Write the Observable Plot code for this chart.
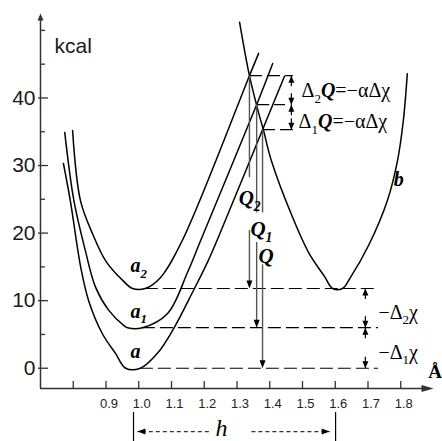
<!DOCTYPE html>
<html><head><meta charset="utf-8">
<script src="https://cdn.jsdelivr.net/npm/d3@7"></script>
<script src="https://cdn.jsdelivr.net/npm/@observablehq/plot@0.6"></script>
<style>
html,body{margin:0;padding:0;background:#fff;}
#chart{width:442px;height:441px;overflow:hidden;}
svg{display:block;}
</style></head><body><div id="chart"></div>
<script>
// ---------- data (Å, kcal) ----------
const curveA  = [[0.770,30.3],[0.791,24.8],[0.823,14.9],[0.847,10.0],[0.889,5.1],[0.929,2.2],[0.960,0],[1.005,0],[1.057,2.2],[1.107,5.9],[1.167,11.5],[1.210,15.7],[1.245,19.6],[1.378,35.3],[1.445,43.2]];
const curveA1 = [[0.774,34.9],[0.802,24.8],[0.837,17.4],[0.868,12.0],[0.908,8.6],[0.955,6.3],[0.966,6.0],[1.011,6.0],[1.088,8.1],[1.149,14.2],[1.189,18.9],[1.360,39.0],[1.409,45.1]];
const curveA2 = [[0.798,35.2],[0.822,24.8],[0.859,19.9],[0.899,15.9],[0.951,13.0],[0.981,11.8],[1.020,11.8],[1.066,13.4],[1.133,18.9],[1.338,43.3],[1.366,46.6]];
const curveB  = [[1.308,51.2],[1.338,43.3],[1.366,37.8],[1.381,35.2],[1.405,30.7],[1.470,22.3],[1.520,17.0],[1.567,13.6],[1.592,11.8],[1.622,11.8],[1.646,13.4],[1.702,18.2],[1.759,24.8],[1.790,30.7],[1.808,36.7],[1.820,43.6]];

const levels     = [11.8, 6.0, 0];          // minima of a2 (= b), a1, a
const levelStart = [1.020, 1.011, 1.005];
const levelEnd   = 1.732;
const crossings  = [[1.338,43.3],[1.360,39.0],[1.378,35.3]]; // a2×b, a1×b, a×b
const crossEnd   = [1.472, 1.448, 1.472];
const qGaps      = [[28.2,20.4],[23.0,18.6],[23.0,15.3]];
const dimUpperX  = 1.466, dimLowerX = 1.692;

const xTicks  = [0.8,0.9,1.0,1.1,1.2,1.3,1.4,1.5,1.6,1.7,1.8];
const xLabels = ["0.9","1.0","1.1","1.2","1.3","1.4","1.5","1.6","1.7","1.8"];
const yMajor  = [0,10,20,30,40];
const yMinor  = [5,15,25,35,45,50];

const curveLabels = [
  {text:"a",   x:0.975, y:1.58},
  {text:"a_1", x:0.975, y:7.5},
  {text:"a_2", x:0.975, y:14.2},
  {text:"b",   x:1.779, y:26.9}
];
const qLabels = [
  {text:"Q_2", x:1.305, y:24.1},
  {text:"Q_1", x:1.341, y:19.6},
  {text:"Q",   x:1.366, y:15.6}
];
const eqLabels = [
  {text:"Δ_2*Q*=−αΔχ", x:1.497, y:40.1},
  {text:"Δ_1*Q*=−αΔχ", x:1.488, y:35.5},
  {text:"−Δ_2χ", x:1.732, y:7.35},
  {text:"−Δ_1χ", x:1.732, y:1.44}
];
const hSpan = [0.984, 1.601];
const hArrow = {y:-9.37, left:[1.214,0.996], right:[1.344,1.583], labelX:1.253, labelY:-9.96, barTop:-6.56, barBottom:-11.2};

// ---------- layout ----------
const W = 442, H = 441, mL = 40, mR = 9, mT = 13, mB = 53;
const xDom = [0.7, 1.9], yDom = [-3, 52.5];
const pxX = (W - mL - mR) / (xDom[1] - xDom[0]);
const pxY = (H - mT - mB) / (yDom[1] - yDom[0]);
const ux = p => p / pxX, uy = p => p / pxY;
const SERIF = "'Liberation Serif','Times New Roman',serif";
const SANS = "'Liberation Sans',Arial,sans-serif";

const head = (dir, L, Wd) => ({draw(ctx) {
  const h = Wd / 2;
  if (dir === "up")        { ctx.moveTo(0,0); ctx.lineTo(-h, L); ctx.lineTo(h, L); }
  else if (dir === "down") { ctx.moveTo(0,0); ctx.lineTo(-h,-L); ctx.lineTo(h,-L); }
  else if (dir === "left") { ctx.moveTo(0,0); ctx.lineTo(L,-h); ctx.lineTo(L, h); }
  else                     { ctx.moveTo(0,0); ctx.lineTo(-L,-h); ctx.lineTo(-L,h); }
  ctx.closePath();
}});

const P = d => ({x: d[0], y: d[1]});
const curveStyle = {x:"x", y:"y", curve:"catmull-rom", stroke:"#000", strokeWidth:1.5};

const levelLines = levels.map((y,i) => ({y, x1: levelStart[i], x2: levelEnd}));
const topLines = crossings.map((c,i) => ({y: c[1], x1: c[0], x2: crossEnd[i]}));

const qSegs = [], qHeads = [];
crossings.forEach((c,i) => {
  qSegs.push({x:c[0], y1:c[1], y2:qGaps[i][0]});
  qSegs.push({x:c[0], y1:qGaps[i][1], y2:levels[i] + uy(4)});
  qHeads.push({x:c[0], y:levels[i]});
});

function dims(x, ys) {
  const up = [], down = [], stems = [];
  for (let i = 0; i < ys.length - 1; i++) {
    const hi = ys[i], lo = ys[i+1];
    up.push({x, y: hi}); stems.push({x, y1: hi, y2: hi - uy(11)});
    down.push({x, y: lo}); stems.push({x, y1: lo, y2: lo + uy(11)});
  }
  return {up, down, stems};
}
const dU = dims(dimUpperX, crossings.map(c => c[1]));
const dL = dims(dimLowerX, levels);
const dimUp = dU.up.concat(dL.up), dimDown = dU.down.concat(dL.down), dimStems = dU.stems.concat(dL.stems);

const axisColor = "#333";
const plot = Plot.plot({
  width: W, height: H, marginLeft: mL, marginRight: mR, marginTop: mT, marginBottom: mB,
  x: {domain: xDom, axis: null},
  y: {domain: yDom, axis: null},
  style: {background: "#fff", overflow: "visible"},
  marks: [
    Plot.ruleX([xDom[0]], {y1: yDom[0], y2: yDom[1] - uy(3), stroke: axisColor, strokeWidth: 1.5}),
    Plot.ruleY([yDom[0]], {x1: xDom[0], x2: xDom[1] - ux(6), stroke: axisColor, strokeWidth: 1.5}),
    Plot.dot([[xDom[0], yDom[1]]], {x: d=>d[0], y: d=>d[1], symbol: head("up", 7, 6), fill: axisColor, stroke: "none"}),
    Plot.dot([[xDom[1], yDom[0]]], {x: d=>d[0], y: d=>d[1], symbol: head("right", 12, 7), fill: axisColor, stroke: "none"}),
    Plot.ruleY(yMajor, {y: d=>d, x1: xDom[0] - ux(2), x2: xDom[0] + ux(8), stroke: axisColor, strokeWidth: 1.3}),
    Plot.ruleY(yMinor, {y: d=>d, x1: xDom[0], x2: xDom[0] + ux(5), stroke: axisColor, strokeWidth: 1.3}),
    Plot.ruleX(xTicks, {x: d=>d, y1: yDom[0], y2: yDom[0] + uy(7), stroke: axisColor, strokeWidth: 1.3}),
    Plot.text(yMajor, {x: xDom[0], y: d=>d, text: d=>String(d), textAnchor: "end", dx: -5, fontSize: 21, fontFamily: SANS, fill: "#1a1a1a"}),
    Plot.text(xLabels, {x: d=>+d, y: yDom[0], text: d=>d, textAnchor: "middle", lineAnchor: "bottom", dx: 3, dy: 19, fontSize: 13, fontFamily: SANS, fill: "#222"}),
    Plot.text(["kcal"], {x: xDom[0] + ux(14), y: 46.7, text: d=>d, textAnchor: "start", lineAnchor: "bottom", fontSize: 21, fontFamily: SANS, fill: "#1a1a1a"}),
    Plot.text(["Å"], {x: 1.9046, y: -1.38, text: d=>d, textAnchor: "middle", lineAnchor: "bottom", fontSize: 19, fontWeight: "bold", fontFamily: SERIF}),
    Plot.ruleY(levelLines, {y: "y", x1: "x1", x2: "x2", stroke: "#000", strokeWidth: 1.2, strokeDasharray: "13,5"}),
    Plot.ruleY(topLines, {y: "y", x1: "x1", x2: "x2", stroke: "#000", strokeWidth: 1.2, strokeDasharray: "13,5"}),
    Plot.line(curveA.map(P), curveStyle),
    Plot.line(curveA1.map(P), curveStyle),
    Plot.line(curveA2.map(P), curveStyle),
    Plot.line(curveB.map(P), curveStyle),
    Plot.ruleX(qSegs, {x: "x", y1: "y1", y2: "y2", stroke: "#555", strokeWidth: 1.4}),
    Plot.dot(qHeads, {x: "x", y: "y", symbol: head("down", 8, 6), fill: "#000", stroke: "none"}),
    Plot.ruleX(dimStems, {x: "x", y1: "y1", y2: "y2", stroke: "#000", strokeWidth: 1.2}),
    Plot.dot(dimUp, {x: "x", y: "y", symbol: head("up", 7, 6), fill: "#000", stroke: "none"}),
    Plot.dot(dimDown, {x: "x", y: "y", symbol: head("down", 7, 6), fill: "#000", stroke: "none"}),
    Plot.ruleX(hSpan, {x: d=>d, y1: hArrow.barTop, y2: hArrow.barBottom, stroke: "#000", strokeWidth: 1.2}),
    Plot.link([hArrow.left, hArrow.right], {x1: d=>d[0], x2: d=>d[1], y1: hArrow.y, y2: hArrow.y, stroke: "#333", strokeWidth: 1.3, strokeDasharray: "4,3"}),
    Plot.dot([hArrow.left[1]], {x: d=>d, y: hArrow.y, symbol: head("left", 8, 6), fill: "#000", stroke: "none"}),
    Plot.dot([hArrow.right[1]], {x: d=>d, y: hArrow.y, symbol: head("right", 8, 6), fill: "#000", stroke: "none"}),
    Plot.text(["h"], {x: hArrow.labelX, y: hArrow.labelY, text: d=>d, textAnchor: "middle", lineAnchor: "bottom", fontSize: 24, fontStyle: "italic", fontFamily: SERIF}),
    Plot.text(curveLabels, {x: "x", y: "y", text: "text", textAnchor: "start", lineAnchor: "bottom", fontSize: 20, fontWeight: "bold", fontStyle: "italic", fontFamily: SERIF}),
    Plot.text(qLabels, {x: "x", y: "y", text: "text", textAnchor: "start", lineAnchor: "bottom", fontSize: 21, fontWeight: "bold", fontStyle: "italic", fontFamily: SERIF}),
    Plot.text(eqLabels, {x: "x", y: "y", text: "text", textAnchor: "start", lineAnchor: "bottom", fontSize: 20, fontFamily: SERIF})
  ]
});
document.getElementById("chart").appendChild(plot);

// subscripts (_x) and bold-italic (*...*) as tspans
plot.querySelectorAll("text").forEach(t => {
  const s = t.textContent;
  if (!/[_*]/.test(s)) return;
  const fs = parseFloat(getComputedStyle(t).fontSize) || 16;
  const tokens = []; let bi = false;
  for (let i = 0; i < s.length; i++) {
    const c = s[i];
    if (c === "*") { bi = !bi; continue; }
    if (c === "_") { tokens.push({t: s[i+1], sub: true, bi}); i++; continue; }
    const last = tokens[tokens.length - 1];
    if (last && !last.sub && last.bi === bi) last.t += c; else tokens.push({t: c, sub: false, bi});
  }
  t.textContent = "";
  const shift = 0.28 * fs; let shifted = false;
  tokens.forEach(tok => {
    const ts = document.createElementNS("http://www.w3.org/2000/svg", "tspan");
    ts.textContent = tok.t;
    if (tok.sub) {
      ts.setAttribute("font-size", (0.65 * fs) + "px");
      if (!shifted) { ts.setAttribute("dy", shift); shifted = true; }
    } else if (shifted) { ts.setAttribute("dy", -shift); shifted = false; }
    if (tok.bi) { ts.setAttribute("font-weight", "bold"); ts.setAttribute("font-style", "italic"); }
    t.appendChild(ts);
  });
});
</script></body></html>
